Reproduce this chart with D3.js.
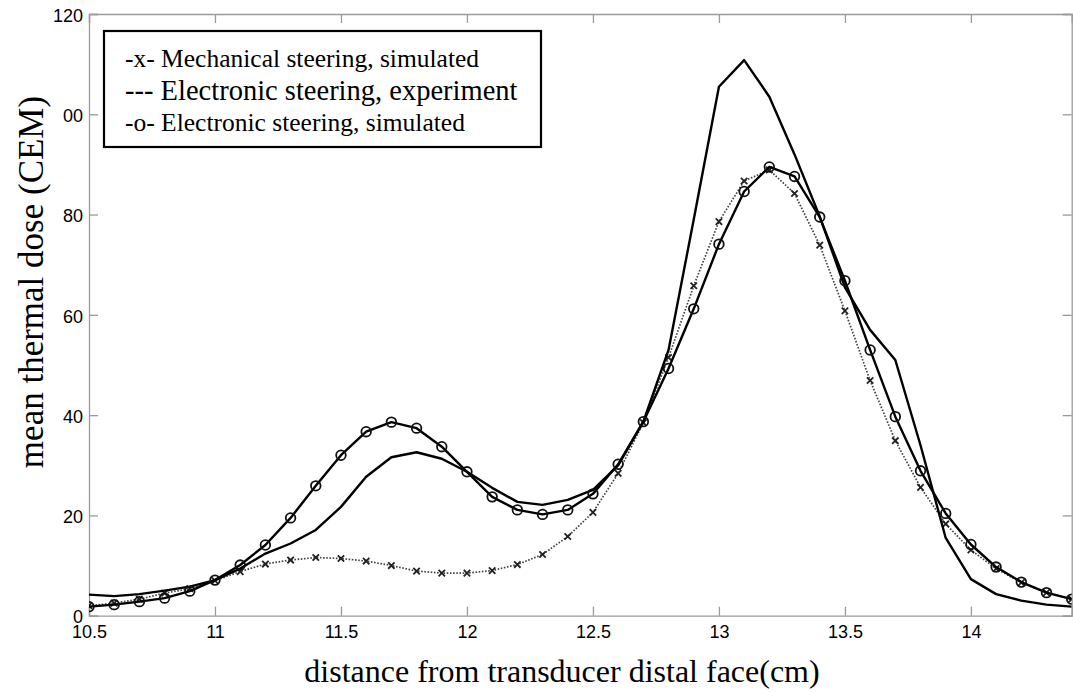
<!DOCTYPE html>
<html>
<head>
<meta charset="utf-8">
<script src="https://cdn.jsdelivr.net/npm/d3@7"></script>
<style>
  html, body { margin: 0; padding: 0; background: #fff; }
  svg { display: block; }
</style>
</head>
<body>
<svg id="chart" width="1073" height="692"></svg>
<script>
// Distance from transducer distal face (cm), sampled every 0.1 cm
const distance = [10.5, 10.6, 10.7, 10.8, 10.9, 11.0, 11.1, 11.2, 11.3, 11.4,
                  11.5, 11.6, 11.7, 11.8, 11.9, 12.0, 12.1, 12.2, 12.3, 12.4,
                  12.5, 12.6, 12.7, 12.8, 12.9, 13.0, 13.1, 13.2, 13.3, 13.4,
                  13.5, 13.6, 13.7, 13.8, 13.9, 14.0, 14.1, 14.2, 14.3, 14.4];

// Mean thermal dose (CEM), mechanical steering, simulated (-x-)
const mechanicalSim = [2.0, 2.5, 3.3, 4.5, 5.4, 7.0, 8.8, 10.3, 11.1, 11.6,
                       11.4, 10.9, 10.0, 8.9, 8.5, 8.5, 9.0, 10.2, 12.2, 15.8,
                       20.6, 28.4, 38.5, 51.5, 65.8, 78.6, 86.7, 88.9, 84.2, 73.9,
                       60.8, 46.9, 34.9, 25.6, 18.3, 13.1, 9.4, 6.6, 4.6, 3.3];

// Mean thermal dose (CEM), electronic steering, experiment (solid)
const electronicExp = [4.2, 3.9, 4.3, 5.0, 5.8, 7.1, 9.4, 12.4, 14.4, 17.1,
                       21.7, 27.7, 31.6, 32.6, 31.3, 28.7, 25.5, 22.7, 22.1, 23.1,
                       25.1, 30.0, 38.7, 53.0, 79.0, 105.5, 110.8, 103.5, 92.0, 79.6,
                       65.5, 57.0, 51.0, 34.0, 15.5, 7.3, 4.3, 3.0, 2.2, 1.8];

// Mean thermal dose (CEM), electronic steering, simulated (-o-)
const electronicSim = [1.8, 2.2, 2.8, 3.5, 4.9, 7.1, 10.1, 14.1, 19.5, 25.9,
                       32.0, 36.7, 38.6, 37.4, 33.7, 28.7, 23.7, 21.1, 20.2, 21.1,
                       24.3, 30.2, 38.7, 49.3, 61.2, 74.1, 84.6, 89.5, 87.6, 79.5,
                       66.8, 53.0, 39.7, 28.9, 20.4, 14.2, 9.7, 6.7, 4.6, 3.3];

const xTicks = [10.5, 11, 11.5, 12, 12.5, 13, 13.5, 14];
const xTickLabels = ["10.5", "11", "11.5", "12", "12.5", "13", "13.5", "14"];
const yTicks = [0, 20, 40, 60, 80, 100, 120];
const yTickLabels = ["0", "20", "40", "60", "80", "00", "120"];

const legendLabels = ["-x- Mechanical steering, simulated",
                      "--- Electronic steering, experiment",
                      "-o- Electronic steering, simulated"];

const xTitle = "distance from transducer distal face(cm)";
const yTitle = "mean thermal dose (CEM)";

const svg = d3.select("#chart");
const plot = { left: 89, top: 14, right: 1071.7, bottom: 615.7 };

const x = d3.scaleLinear().domain([10.5, 14.4]).range([plot.left, plot.right]);
const y = d3.scaleLinear().domain([0, 120]).range([plot.bottom, plot.top]);

const axisColor = "#9a9a9a";
const tickFont = "'Liberation Sans', Arial, Helvetica, sans-serif";
const serif = "'Liberation Serif', 'Times New Roman', Times, serif";

// Clip the curves to the axes box
svg.append("defs").append("clipPath").attr("id", "plot-clip")
  .append("rect")
  .attr("x", plot.left).attr("y", plot.top)
  .attr("width", plot.right - plot.left).attr("height", plot.bottom - plot.top);

// Axes: ticks point inward on all four sides
const tickLen = 9;
const axisBottom = d3.axisBottom(x).tickValues(xTicks)
  .tickSize(-tickLen).tickPadding(10)
  .tickFormat((d, i) => xTickLabels[i]);
const axisTop = d3.axisTop(x).tickValues(xTicks).tickSize(-tickLen).tickFormat("");
const axisLeft = d3.axisLeft(y).tickValues(yTicks)
  .tickSize(-tickLen).tickPadding(6)
  .tickFormat((d, i) => yTickLabels[i]);
const axisRight = d3.axisRight(y).tickValues(yTicks).tickSize(-tickLen).tickFormat("");

function styleAxis(g) {
  g.select(".domain").attr("stroke", axisColor).attr("stroke-width", 1.3);
  g.selectAll(".tick line").attr("stroke", axisColor).attr("stroke-width", 1.3);
  g.selectAll(".tick text")
    .attr("fill", "#000")
    .style("font-family", tickFont)
    .style("font-size", "18px");
}

svg.append("g").attr("transform", `translate(0,${plot.bottom})`).call(axisBottom).call(styleAxis);
svg.append("g").attr("transform", `translate(0,${plot.top})`).call(axisTop).call(styleAxis);
svg.append("g").attr("transform", `translate(${plot.left},0)`).call(axisLeft).call(styleAxis)
  .selectAll(".tick text").attr("dy", "0.4em");
svg.append("g").attr("transform", `translate(${plot.right},0)`).call(axisRight).call(styleAxis);

// Curves
const curves = svg.append("g").attr("clip-path", "url(#plot-clip)");
const line = d3.line().x(d => x(d[0])).y(d => y(d[1]));
const pairs = vals => distance.map((d, i) => [d, vals[i]]);

// Mechanical steering, simulated: dotted line with x markers
curves.append("path").datum(pairs(mechanicalSim))
  .attr("d", line).attr("fill", "none")
  .attr("stroke", "#444").attr("stroke-width", 1.7)
  .attr("stroke-dasharray", "1.6,1.6");
const xm = 3.2;
curves.append("g").selectAll("path").data(pairs(mechanicalSim)).join("path")
  .attr("d", d => `M${x(d[0]) - xm},${y(d[1]) - xm}L${x(d[0]) + xm},${y(d[1]) + xm}` +
                  `M${x(d[0]) - xm},${y(d[1]) + xm}L${x(d[0]) + xm},${y(d[1]) - xm}`)
  .attr("stroke", "#222").attr("stroke-width", 1.8).attr("fill", "none");

// Electronic steering, experiment: solid line
curves.append("path").datum(pairs(electronicExp))
  .attr("d", line).attr("fill", "none")
  .attr("stroke", "#000").attr("stroke-width", 2.4)
  .attr("stroke-linejoin", "round");

// Electronic steering, simulated: solid line with open circles
curves.append("path").datum(pairs(electronicSim))
  .attr("d", line).attr("fill", "none")
  .attr("stroke", "#000").attr("stroke-width", 2.4)
  .attr("stroke-linejoin", "round");
curves.append("g").selectAll("circle").data(pairs(electronicSim)).join("circle")
  .attr("cx", d => x(d[0])).attr("cy", d => y(d[1])).attr("r", 4.8)
  .attr("fill", "none").attr("stroke", "#111").attr("stroke-width", 1.8);

// Legend
const legend = svg.append("g");
legend.append("rect")
  .attr("x", 104).attr("y", 31).attr("width", 437).attr("height", 116)
  .attr("fill", "#fff").attr("stroke", "#000").attr("stroke-width", 2.2);
const legendRows = [
  { base: 67, size: 25.5 },
  { base: 100, size: 28.5 },
  { base: 131, size: 25.5 }
];
legendRows.forEach((row, i) => {
  legend.append("text")
    .attr("x", 125).attr("y", row.base)
    .style("font-family", serif).style("font-size", row.size + "px")
    .attr("fill", "#000")
    .text(legendLabels[i]);
});

// Axis titles
svg.append("text")
  .attr("x", 562).attr("y", 682)
  .attr("text-anchor", "middle")
  .style("font-family", serif).style("font-size", "32px")
  .text(xTitle);
svg.append("text")
  .attr("transform", "translate(43,282) rotate(-90)")
  .attr("text-anchor", "middle")
  .style("font-family", serif).style("font-size", "35px")
  .text(yTitle);
</script>
</body>
</html>
